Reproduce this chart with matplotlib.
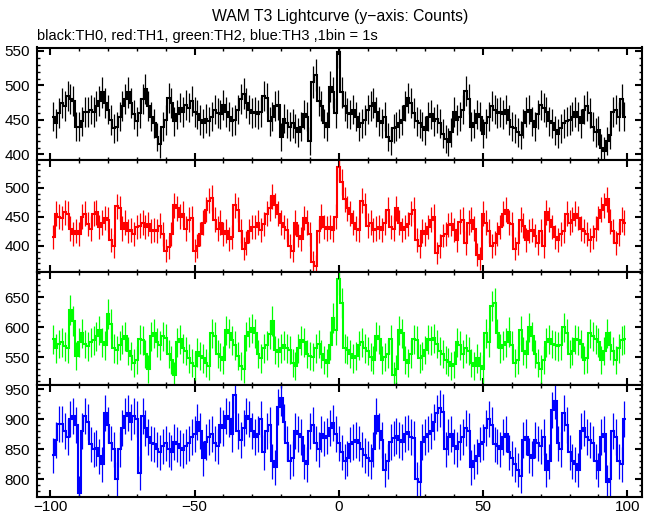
import numpy as np
import matplotlib
matplotlib.use("Agg")
import matplotlib.pyplot as plt
from matplotlib.ticker import MultipleLocator

plt.rcParams['font.family'] = ['Liberation Sans', 'DejaVu Sans']

title = "WAM T3 Lightcurve (y\u2212axis: Counts)"
subtitle = "black:TH0, red:TH1, green:TH2, blue:TH3 ,1bin = 1s"

time_s = list(range(-99, 100))

th0 = [455, 445, 460, 475, 470, 485, 480, 478, 440, 440,
       448, 462, 462, 465, 462, 470, 478, 490, 475, 465,
       450, 438, 440, 455, 470, 480, 490, 475, 458, 448,
       460, 480, 495, 470, 455, 445, 425, 415, 440, 450,
       482, 475, 448, 458, 468, 462, 472, 468, 478, 462,
       458, 450, 445, 452, 448, 455, 465, 460, 458, 472,
       462, 455, 448, 450, 465, 480, 488, 475, 465, 460,
       462, 458, 462, 485, 482, 448, 455, 470, 472, 425,
       452, 445, 440, 445, 438, 432, 440, 458, 455, 420,
       505, 515, 478, 470, 445, 440, 498, 490, 460, 548,
       490, 470, 460, 458, 465, 455, 440, 445, 450, 465,
       470, 475, 462, 448, 445, 455, 425, 420, 438, 440,
       445, 450, 470, 482, 475, 460, 448, 445, 440, 435,
       455, 458, 448, 452, 445, 430, 422, 418, 432, 462,
       450, 455, 465, 492, 480, 440, 445, 458, 455, 430,
       445, 455, 470, 465, 460, 462, 458, 465, 450, 440,
       438, 432, 428, 445, 462, 465, 448, 440, 458, 472,
       468, 462, 448, 445, 435, 430, 438, 445, 448, 450,
       455, 462, 455, 445, 465, 470, 460, 440, 432, 435,
       410, 405, 420, 428, 462, 465, 455, 480, 455]

th1 = [415, 455, 450, 448, 458, 455, 430, 420, 425, 420,
       450, 455, 438, 430, 455, 458, 432, 440, 448, 445,
       410, 400, 468, 465, 430, 440, 425, 428, 420, 432,
       435, 440, 432, 438, 425, 428, 425, 435, 420, 392,
       398, 420, 470, 465, 450, 455, 430, 445, 448, 392,
       400, 420, 440, 462, 478, 482, 445, 430, 440, 420,
       425, 412, 415, 470, 462, 425, 395, 405, 425, 432,
       432, 440, 428, 438, 455, 465, 485, 470, 455, 440,
       432, 428, 400, 392, 440, 418, 412, 448, 440, 420,
       372, 365, 425, 450, 433, 430, 432, 428, 450, 535,
       510, 480, 465, 455, 440, 430, 428, 478, 470, 435,
       440, 428, 430, 432, 428, 440, 462, 432, 430, 465,
       440, 428, 432, 438, 455, 462, 410, 400, 425, 420,
       432, 445, 450, 388, 400, 418, 420, 436, 438, 428,
       410, 442, 445, 405, 440, 445, 430, 385, 378, 455,
       440, 425, 400, 405, 420, 432, 455, 462, 440, 438,
       395, 405, 445, 435, 410, 425, 428, 418, 405, 425,
       400, 458, 445, 432, 415, 410, 420, 425, 455, 440,
       445, 455, 448, 430, 425, 420, 410, 415, 430, 448,
       462, 470, 480, 442, 425, 405, 420, 445, 440]

th2 = [580, 565, 572, 575, 568, 565, 628, 610, 552, 575,
       590, 572, 568, 575, 578, 585, 595, 575, 570, 622,
       605, 565, 562, 570, 580, 585, 560, 552, 540, 545,
       580, 578, 555, 530, 585, 590, 575, 570, 585, 582,
       555, 545, 520, 575, 580, 565, 560, 548, 540, 535,
       558, 552, 548, 540, 535, 590, 585, 555, 550, 545,
       595, 590, 578, 570, 552, 535, 530, 585, 592, 598,
       590, 555, 548, 565, 570, 588, 610, 562, 558, 565,
       570, 565, 562, 540, 535, 565, 578, 575, 555, 552,
       550, 565, 572, 555, 545, 540, 570, 615, 595, 680,
       640, 565, 562, 555, 548, 552, 570, 575, 565, 560,
       550, 545, 585, 580, 545, 550, 555, 580, 520, 530,
       595, 590, 545, 540, 555, 580, 578, 548, 552, 562,
       580, 578, 582, 572, 560, 555, 545, 542, 535, 538,
       575, 570, 555, 565, 560, 540, 535, 548, 535, 530,
       590, 575, 635, 640, 590, 565, 570, 575, 592, 570,
       540, 545, 595, 560, 555, 600, 585, 555, 540, 530,
       545, 575, 580, 572, 570, 568, 570, 600, 590, 555,
       560, 580, 578, 572, 545, 548, 590, 585, 580, 575,
       545, 560, 590, 570, 560, 545, 565, 578, 580]

th3 = [840, 865, 892, 892, 880, 870, 900, 905, 890, 778,
       880, 905, 895, 858, 850, 852, 838, 825, 910, 890,
       860, 850, 800, 850, 885, 905, 910, 895, 905, 900,
       810, 905, 885, 870, 860, 858, 850, 845, 855, 860,
       850, 845, 862, 858, 852, 848, 855, 860, 870, 875,
       895, 880, 835, 862, 870, 875, 860, 855, 890, 885,
       905, 900, 875, 940, 880, 865, 885, 905, 900, 880,
       870, 875, 900, 845, 880, 890, 830, 820, 920, 935,
       895, 860, 830, 835, 880, 875, 870, 830, 825, 880,
       890, 860, 850, 875, 868, 872, 885, 893, 875, 860,
       845, 830, 835, 858, 862, 865, 860, 850, 840, 835,
       830, 850, 905, 880, 865, 815, 830, 862, 868, 872,
       865, 862, 875, 878, 870, 868, 800, 795, 862, 870,
       875, 880, 895, 910, 918, 912, 850, 870, 875, 855,
       850, 862, 870, 885, 880, 820, 830, 838, 858, 862,
       885, 900, 890, 858, 855, 850, 870, 875, 845, 835,
       825, 815, 805, 865, 870, 840, 835, 865, 860, 855,
       870, 815, 830, 915, 930, 860, 850, 910, 890, 845,
       830, 825, 815, 880, 885, 870, 865, 860, 830, 815,
       870, 875, 795, 800, 880, 870, 830, 825, 900]

series = [th0, th1, th2, th3]
colors = ['black', '#ff0000', '#00ff00', '#0000ff']
ylims = [(392, 555), (355.4, 547.5), (504.7, 692), (770.6, 957.5)]
yticks = [[400, 450, 500, 550], [400, 450, 500], [550, 600, 650], [800, 850, 900, 950]]

W, H = 653, 515
fig = plt.figure(figsize=(W / 100, H / 100), dpi=100)
left, right = 36.7, 641.7
bounds = [47.5, 160, 272, 384.5, 497]

x = np.array(time_s, dtype=float)
edges = np.append(x - 0.5, x[-1] + 0.5)

for i, (vals, col) in enumerate(zip(series, colors)):
    top, bot = bounds[i], bounds[i + 1]
    ax = fig.add_axes([left / W, 1 - bot / H, (right - left) / W, (bot - top) / H])
    y = np.array(vals, dtype=float)
    err = np.sqrt(y)
    ax.vlines(x, y - err, y + err, color=col, lw=0.9)
    ax.stairs(y, edges, color=col, lw=1.5, baseline=None)
    ax.set_xlim(-104.7, 105)
    ax.set_ylim(*ylims[i])
    ax.set_yticks(yticks[i])
    ax.xaxis.set_major_locator(MultipleLocator(50))
    ax.xaxis.set_minor_locator(MultipleLocator(10))
    ax.yaxis.set_minor_locator(MultipleLocator(10))
    ax.tick_params(which='both', direction='in', top=True, right=True, labelsize=11, colors='black')
    ax.tick_params(which='major', length=5, width=1.5)
    ax.tick_params(which='minor', length=2.5, width=1)
    ax.tick_params(axis='y', pad=5)
    ax.tick_params(axis='x', pad=2)
    for s in ax.spines.values():
        s.set_linewidth(1.5)
    if i < 3:
        ax.tick_params(labelbottom=False)

fig.text(340 / W, 1 - 17 / H, title, ha='center', va='center', fontsize=11.3)
fig.text(37 / W, 1 - 36 / H, subtitle, ha='left', va='center', fontsize=10.5)

fig.savefig('out.png', dpi=100)
